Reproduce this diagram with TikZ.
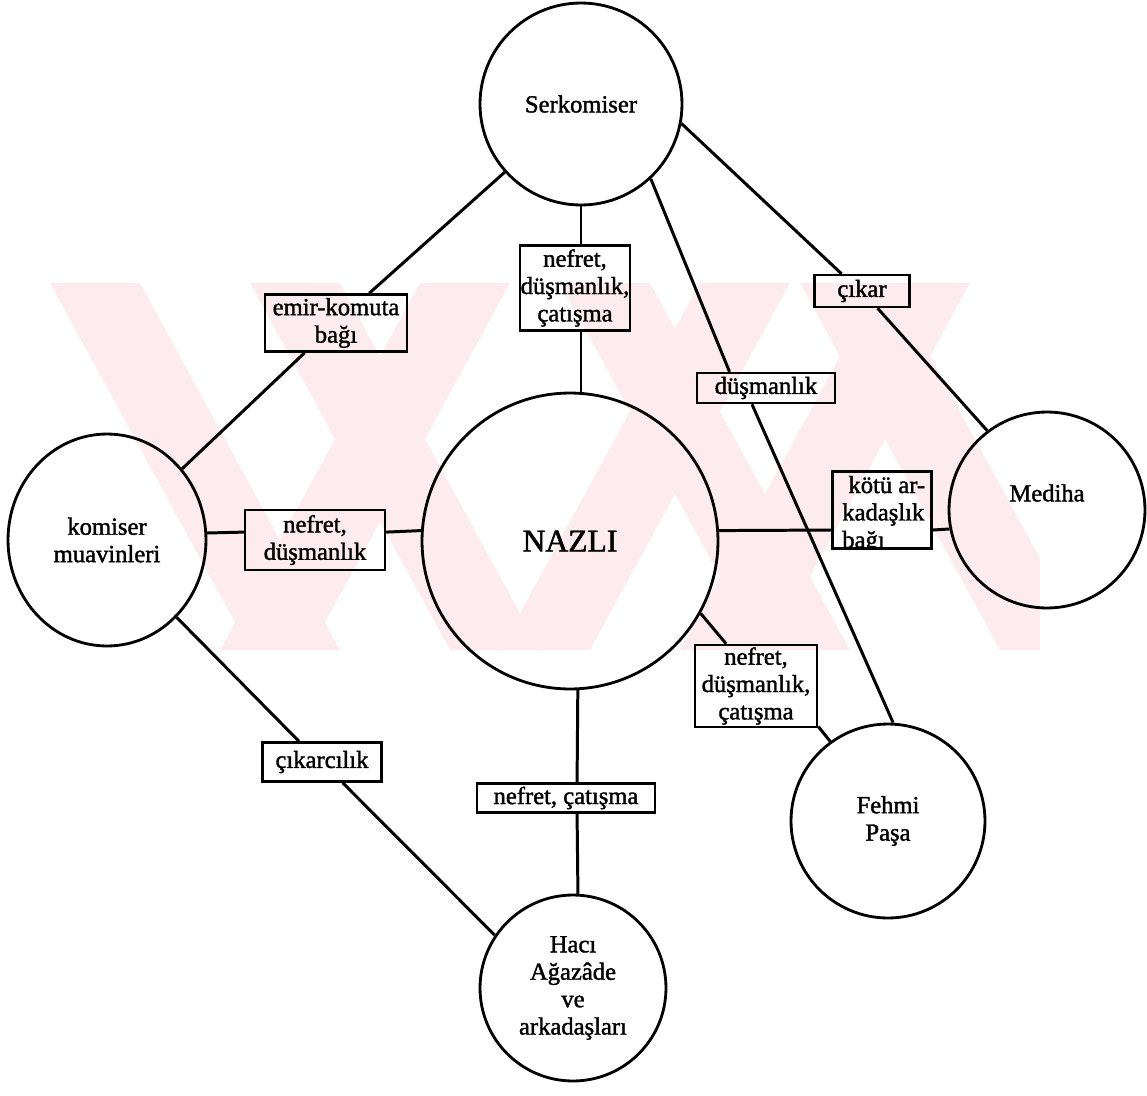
\documentclass[tikz,border=0pt]{standalone}
\usepackage{fontspec}
\setmainfont{Liberation Serif}[FakeBold=1.5]
\usetikzlibrary{shapes.geometric,calc}
\definecolor{wmark}{RGB}{253,236,239}
\newcommand\lblfont{\fontsize{14}{15.6}\selectfont}
\newcommand\bigfont{\fontsize{18}{20}\selectfont}
\begin{document}
\begin{tikzpicture}[x=0.02cm,y=-0.02cm,
  person/.style={circle,draw,line width=1.6pt,inner sep=0pt,align=center,font=\lblfont},
  personE/.style={ellipse,draw,line width=1.6pt,inner sep=0pt,align=center,font=\lblfont},
  tag/.style={rectangle,draw,line width=1.4pt,inner sep=0.5pt,align=center,font=\lblfont},
  link/.style={line width=1.7pt}]
\useasboundingbox (0,0) rectangle (1147,1096);

% light background emblem
\begin{scope}
  \clip (50,283) rectangle (1040,650);
  \fill[wmark] (50,283) -- (140,283) -- (340,650) -- (250,650) -- cycle;
  \fill[wmark] (420,283) -- (510,283) -- (310,650) -- (220,650) -- cycle;
  \fill[wmark] (250,283) -- (340,283) -- (540,650) -- (450,650) -- cycle;
  \fill[wmark] (700,283) -- (790,283) -- (590,650) -- (500,650) -- cycle;
  \fill[wmark] (560,283) -- (650,283) -- (850,650) -- (760,650) -- cycle;
  \fill[wmark] (880,283) -- (970,283) -- (770,650) -- (680,650) -- cycle;
  \fill[wmark] (800,283) -- (890,283) -- (1090,650) -- (1000,650) -- cycle;
\end{scope}

% characters
\node[person,minimum size=4.04cm] (serk) at (581,104) {Serkomiser};
\node[person,minimum size=5.92cm,font=\bigfont] (nazli) at (570,541) {NAZLI};
\node[personE,minimum width=3.96cm,minimum height=4.24cm] (komiser) at (107,540) {komiser\\muavinleri};
\node[person,minimum size=3.92cm] (mediha) at (1047,510) {};
\node[font=\lblfont] (mediha_t) at ([yshift=9.7pt]mediha.center) {Mediha};
\node[person,minimum size=3.88cm] (fehmi) at (888,821) {Fehmi\\Paşa};
\node[person,minimum size=3.72cm] (haci) at (573,988) {Hacı\\Ağazâde\\ve\\arkadaşları};

% relation labels
\node[tag,minimum width=2.84cm,minimum height=1.14cm] (b_emir) at (336,323) {emir-komuta\\bağı};
\node[tag,minimum width=2.2cm,minimum height=1.7cm] (b_top) at (575,288) {nefret,\\düşmanlık,\\çatışma};
\node[tag,minimum width=2.76cm,minimum height=0.6cm] (b_dus) at (766,388) {düşmanlık};
\node[tag,minimum width=1.9cm,minimum height=0.64cm] (b_cikar) at (862,291) {çıkar};
\node[tag,minimum width=2.8cm,minimum height=1.2cm] (b_nd) at (315,540) {nefret,\\düşmanlık};
\node[tag,minimum width=1.98cm,minimum height=1.54cm] (b_kotu) at (882,510) {};
\begin{scope}
  % the last line of this label runs into the frame's lower edge
  \clip (b_kotu.south west) rectangle (b_kotu.north east);
  \node[font=\lblfont,align=left,inner sep=0pt] (t_kotu) at ([yshift=-2.6pt,xshift=1pt]b_kotu.center) {\hspace*{3.5pt}kötü ar-\\kadaşlık\\bağı};
\end{scope}
\node[tag,minimum width=2.44cm,minimum height=1.64cm] (b_nd2) at (756,686) {nefret,\\düşmanlık,\\çatışma};
\node[tag,minimum width=3.56cm,minimum height=0.58cm] (b_nc) at (566,798) {nefret, çatışma};
\node[tag,minimum width=2.38cm,minimum height=0.78cm] (b_cik) at (322,762) {çıkarcılık};

% relations
\draw[link] (serk) -- (b_emir);
\draw[link] (b_emir) -- (komiser);
\draw[link] (serk.south) -- (serk.south |- b_top.north);
\draw[link] (serk.south |- b_top.south) -- (serk.south |- nazli.north);
\draw[link] (serk.-47) -- ($(b_dus.north west)!0.24!(b_dus.north east)$);
\draw[link] ($(b_dus.south west)!0.40!(b_dus.south east)$) -- (fehmi.87);
\draw[link] (serk.-11) -- ($(b_cikar.north west)!0.29!(b_cikar.north east)$);
\draw[link] ($(b_cikar.south west)!0.66!(b_cikar.south east)$) -- (mediha.127);
\draw[link] (komiser.4.6) -- ([yshift=4.5pt]b_nd.west);
\draw[link] ([yshift=4.5pt]b_nd.east) -- (nazli.176.5);
\draw[link] (nazli.4.3) -- ([yshift=-11.4pt]b_kotu.west);
\draw[link] ([yshift=-11.4pt]b_kotu.east) -- (mediha.191.8);
\draw[link] (nazli.-29) -- ($(b_nd2.north west)!0.26!(b_nd2.north east)$);
\draw[link] ([yshift=1pt]b_nd2.south east) -- (fehmi.126);
\draw[link] (nazli.-87.3) -- ([xshift=6.3pt]b_nc.north);
\draw[link] ([xshift=6.3pt]b_nc.south) -- (haci.87.5);
\draw[link] (komiser.-48.2) -- ($(b_cik.north west)!0.31!(b_cik.north east)$);
\draw[link] ($(b_cik.south west)!0.67!(b_cik.south east)$) -- (haci.146.7);
\end{tikzpicture}
\end{document}
